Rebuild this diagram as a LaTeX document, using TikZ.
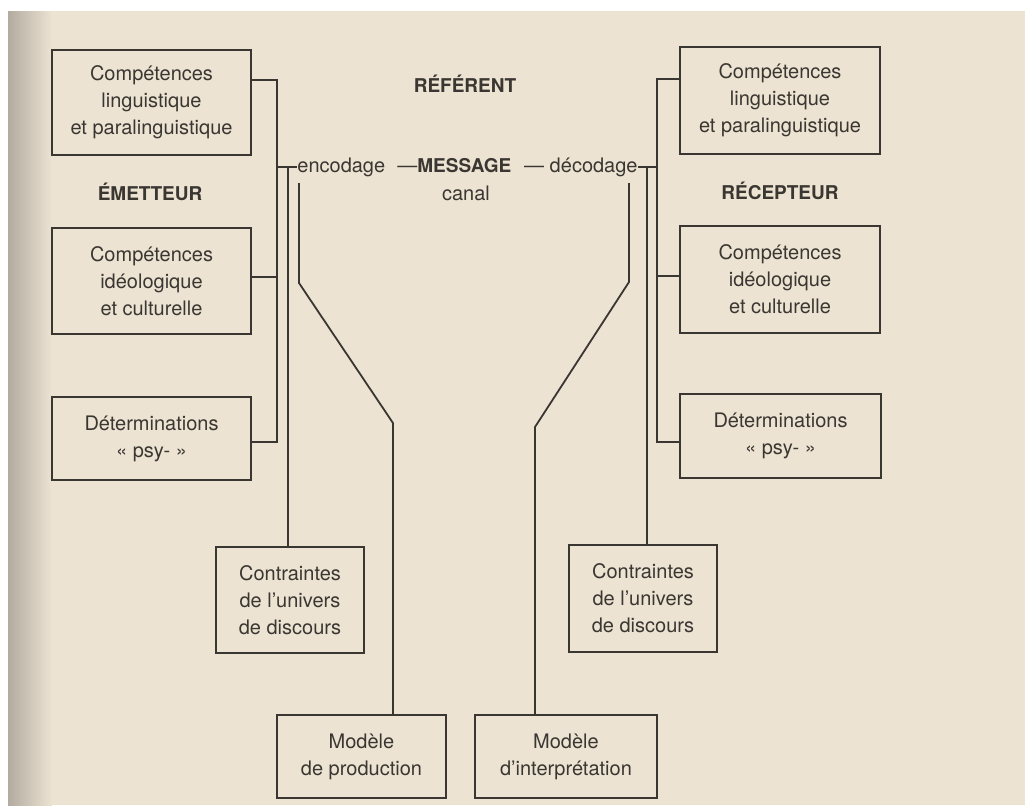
\documentclass[tikz,border=0pt]{standalone}
\usepackage{fontspec}
\setmainfont{TeX Gyre Heros}
\usetikzlibrary{positioning}
\definecolor{papier}{HTML}{ECE3D2}
\definecolor{encre}{HTML}{3A3631}
\definecolor{ombre}{HTML}{B3ABA0}

\begin{document}
\begin{tikzpicture}[x=0.5pt,y=-0.5pt,
        boite/.style={draw=encre,line width=0.9pt,align=center,inner sep=0pt,text=encre,font=\fontsize{10}{13.5}\selectfont},
        titre/.style={text=encre,inner sep=0pt,font=\fontsize{9.5}{12}\selectfont\bfseries},
        mot/.style={text=encre,inner sep=0pt,font=\fontsize{10}{12}\selectfont},
        trait/.style={draw=encre,line width=0.9pt}]
    \fill[white] (0,0) rectangle (1025,805);
    \fill[papier] (8,11) rectangle (1025,805);
    \shade[left color=ombre,right color=papier] (8,11) rectangle (52,805);
    \useasboundingbox (0,0) rectangle (1025,805);

    \node[boite,minimum width=99.5pt,minimum height=52.5pt] (compLingE) at (151.5,102.5) {Compétences\\linguistique\\et paralinguistique};
    \node[boite,minimum width=99.5pt,minimum height=53pt] (compIdeoE) at (151.5,281) {Compétences\\idéologique\\et culturelle};
    \node[boite,minimum width=99.5pt,minimum height=41.5pt] (psyE) at (151.5,438.5) {Déterminations\\« psy- »};
    \node[boite,minimum width=100pt,minimum height=53.5pt] (compLingR) at (780,100.5) {Compétences\\linguistique\\et paralinguistique};
    \node[boite,minimum width=100pt,minimum height=53.5pt] (compIdeoR) at (780,279.5) {Compétences\\idéologique\\et culturelle};
    \node[boite,minimum width=100.5pt,minimum height=42pt] (psyR) at (780.5,436) {Déterminations\\« psy- »};
    \node[boite,minimum width=74pt,minimum height=53pt] (univE) at (290,600) {Contraintes\\de l'univers\\de discours};
    \node[boite,minimum width=74pt,minimum height=53.5pt] (univR) at (643,598.5) {Contraintes\\de l'univers\\de discours};
    \node[boite,minimum width=84.5pt,minimum height=41.5pt] (modProd) at (361.5,756.5) {Modèle\\de production};
    \node[boite,minimum width=91pt,minimum height=41.5pt] (modInterp) at (566,756.5) {Modèle\\d'interprétation};

    \node[titre,anchor=base] (referent) at (465,92) {RÉFÉRENT};
    \node[titre,anchor=base] (emetteur) at (150,200) {ÉMETTEUR};
    \node[titre,anchor=base] (recepteur) at (780,199) {RÉCEPTEUR};
    \node[mot,anchor=base west] (encodage) at (297,172) {encodage};
    \node[mot,anchor=base west] (message) at (397,172) {—{\fontsize{9.5}{12}\selectfont\bfseries MESSAGE}};
    \node[mot,anchor=base east] (decodage) at (638,172) {— décodage};
    \node[mot,anchor=base] (canal) at (466,200) {canal};

    \coordinate (eHaut) at (277,80);
    \coordinate (eMilieu) at (277,277);
    \coordinate (eBas) at (277,442);
    \coordinate (eUnivers) at (288,167);
    \coordinate (eProd) at (299,183);
    \coordinate (eCoude) at (393,423);
    \draw[trait] (eHaut -| compLingE.east) -- (eHaut) -- (eBas) -- (eBas -| psyE.east);
    \draw[trait] (eMilieu) -- (eMilieu -| compIdeoE.east);
    \draw[trait] (encodage.west -| eHaut) -- (encodage.west);
    \draw[trait] (eUnivers) -- (eUnivers |- univE.north);
    \draw[trait] (eProd) -- ++(0,100) -- (eCoude) -- (eCoude |- modProd.north);

    \coordinate (rHaut) at (657,79);
    \coordinate (rMilieu) at (657,276);
    \coordinate (rBas) at (657,442);
    \coordinate (rUnivers) at (647,167);
    \coordinate (rInterp) at (629,183);
    \coordinate (rCoude) at (535,427);
    \draw[trait] (rHaut -| compLingR.west) -- (rHaut) -- (rBas) -- (rBas -| psyR.west);
    \draw[trait] (rMilieu) -- (rMilieu -| compIdeoR.west);
    \draw[trait] (decodage.east) -- (decodage.east -| rHaut);
    \draw[trait] (rUnivers) -- (rUnivers |- univR.north);
    \draw[trait] (rInterp) -- ++(0,99) -- (rCoude) -- (rCoude |- modInterp.north);
\end{tikzpicture}
\end{document}
